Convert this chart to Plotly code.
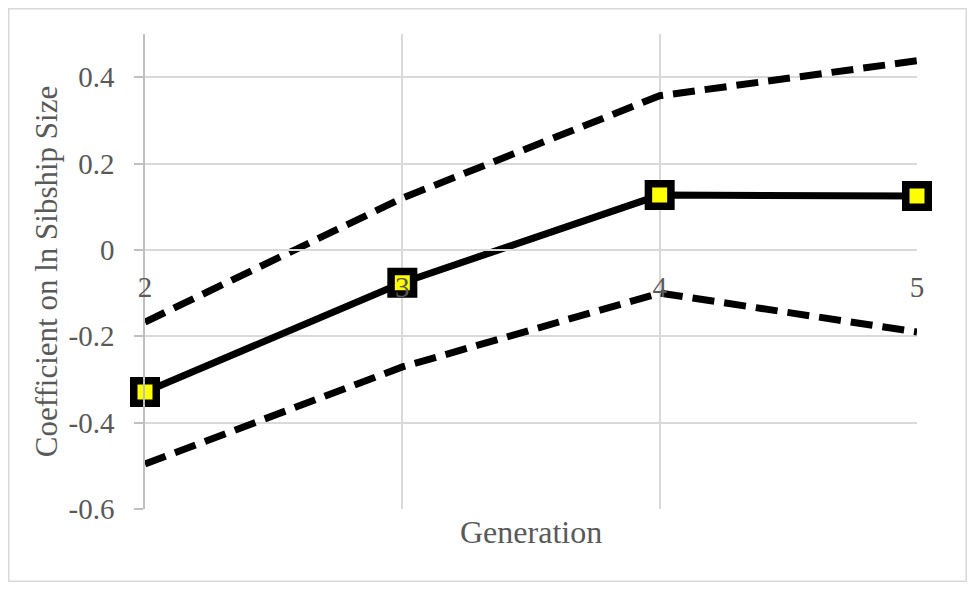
import plotly.graph_objects as go

generations = [2, 3, 4, 5]
coef = [-0.329, -0.076, 0.127, 0.125]
upper = [-0.167, 0.12, 0.357, 0.438]
lower = [-0.496, -0.271, -0.1, -0.19]

y_tickvals = [0.4, 0.2, 0, -0.2, -0.4, -0.6]
y_ticktext = ["0.4", "0.2", "0", "-0.2", "-0.4", "-0.6"]
x_ticktext = ["2", "3", "4", "5"]

FONT = "Liberation Serif"
GRAY = "#595959"
GRID = "#d9d9d9"

W, H = 959, 574
ML, MR, MT, MB = 137, 50, 26, 73
PW, PH = W - ML - MR, H - MT - MB

fig = go.Figure()
for band in (upper, lower):
    fig.add_trace(go.Scatter(x=generations, y=band, mode="lines",
                             line=dict(color="black", width=7, dash="22px,10px"),
                             cliponaxis=False, showlegend=False, hoverinfo="skip"))
fig.add_trace(go.Scatter(x=generations, y=coef, mode="lines+markers",
                         line=dict(color="black", width=7),
                         marker=dict(symbol="square", size=22.5, color="#ffff00",
                                     line=dict(color="black", width=7.5)),
                         cliponaxis=False, showlegend=False))

fig.update_layout(
    width=W, height=H,
    margin=dict(l=ML, r=MR, t=MT, b=MB),
    paper_bgcolor="white", plot_bgcolor="white",
    font=dict(family=FONT, color=GRAY, size=29),
    xaxis=dict(range=[2, 5], tickvals=generations, ticktext=x_ticktext,
               showgrid=True, gridcolor=GRID, gridwidth=1.5,
               zeroline=False, showline=True, linecolor=GRID, linewidth=1.5,
               anchor="free", position=(0 - (-0.6)) / (0.5 - (-0.6)),
               ticks="", ticklabelstandoff=12,
               tickfont=dict(size=29, color=GRAY, family=FONT),
               layer="above traces"),
    yaxis=dict(range=[-0.6, 0.5], tickvals=y_tickvals, ticktext=y_ticktext,
               showgrid=True, gridcolor=GRID, gridwidth=1.5,
               zeroline=False, showline=True, linecolor="#bfbfbf", linewidth=1.5,
               ticks="outside", ticklen=9, tickcolor="#bfbfbf", tickwidth=1.5,
               ticklabelstandoff=14,
               tickfont=dict(size=29, color=GRAY, family=FONT),
               title=dict(text="Coefficient on ln Sibship Size",
                          font=dict(size=31, color=GRAY, family=FONT), standoff=2)),
    annotations=[dict(text="Generation", xref="paper", yref="paper",
                      x=0.5, y=-0.048, xanchor="center", yanchor="middle",
                      showarrow=False, font=dict(size=32, color=GRAY, family=FONT))],
    shapes=[dict(type="rect", xref="paper", yref="paper",
                 x0=(0.75 - ML) / PW, x1=(W - 0.75 - ML) / PW,
                 y0=(H - MB - (H - 0.75)) / PH, y1=(H - MB - 0.75) / PH,
                 line=dict(color=GRID, width=1.5), layer="below")],
)

fig.write_html("out.html")
